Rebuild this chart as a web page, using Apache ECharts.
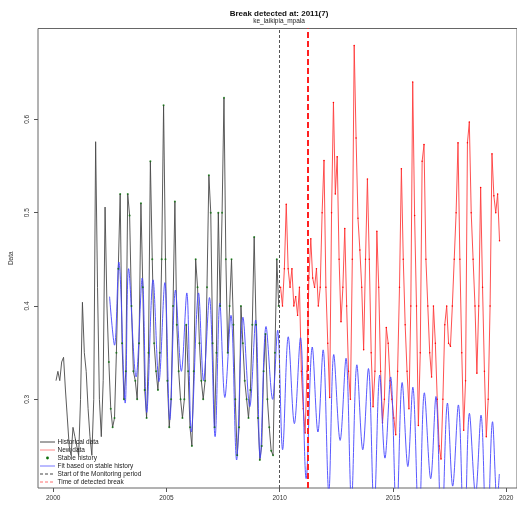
<!DOCTYPE html>
<html>
<head>
<meta charset="utf-8">
<script src="https://cdn.jsdelivr.net/npm/echarts@6/dist/echarts.min.js"></script>
<style>
  html, body { margin: 0; padding: 0; background: #ffffff; }
  #chart { width: 517px; height: 506px; }
</style>
</head>
<body>
<div id="chart"></div>
<script>
// Monthly observations, historical period (Feb 2000 .. Dec 2009)
const histStart = 2000 + 1.5 / 12;
const histValues = [
  0.32, 0.33, 0.32, 0.34, 0.345, 0.31, 0.28, 0.25, 0.24, 0.27, 0.26,
  0.25, 0.24, 0.30, 0.404, 0.35, 0.33, 0.29, 0.26, 0.24, 0.30, 0.576, 0.42,
  0.30, 0.26, 0.32, 0.506, 0.40, 0.34, 0.29, 0.27, 0.28, 0.35, 0.44, 0.52,
  0.36, 0.30, 0.33, 0.52, 0.497, 0.40, 0.33, 0.32, 0.30, 0.36, 0.51, 0.42,
  0.31, 0.28, 0.35, 0.555, 0.45, 0.36, 0.33, 0.31, 0.35, 0.45, 0.615, 0.45,
  0.32, 0.27, 0.30, 0.40, 0.512, 0.38, 0.33, 0.30, 0.28, 0.30, 0.38, 0.33,
  0.27, 0.25, 0.33, 0.45, 0.42, 0.36, 0.32, 0.30, 0.32, 0.42, 0.54, 0.50,
  0.36, 0.27, 0.35, 0.50, 0.40, 0.50, 0.623, 0.45, 0.35, 0.40, 0.45, 0.38,
  0.30, 0.24, 0.27, 0.40, 0.36, 0.32, 0.30, 0.28, 0.31, 0.38, 0.474, 0.38,
  0.28, 0.235, 0.25, 0.33, 0.37, 0.30, 0.27, 0.245, 0.24, 0.35, 0.45, 0.40
];

// Monthly observations, monitoring period (Jan 2010 .. Sep 2019)
const newStart = 2010 + 0.5 / 12;
const newValues = [
  0.42, 0.40, 0.44, 0.509, 0.44, 0.42, 0.44, 0.40, 0.41, 0.39, 0.42, 0.33,
  0.29, 0.264, 0.33, 0.43, 0.472, 0.43, 0.42, 0.44, 0.40, 0.42, 0.50, 0.556,
  0.42, 0.36, 0.302, 0.50, 0.618, 0.52, 0.56, 0.45, 0.383, 0.42, 0.483, 0.40,
  0.33, 0.30, 0.45, 0.679, 0.58, 0.494, 0.46, 0.42, 0.353, 0.45, 0.536, 0.45,
  0.35, 0.292, 0.33, 0.48, 0.42, 0.33, 0.275, 0.30, 0.377, 0.36, 0.32, 0.30,
  0.28, 0.262, 0.33, 0.42, 0.547, 0.45, 0.38, 0.33, 0.29, 0.40, 0.64, 0.497,
  0.40, 0.272, 0.35, 0.555, 0.573, 0.45, 0.40, 0.35, 0.324, 0.40, 0.36, 0.30,
  0.25, 0.236, 0.30, 0.38, 0.40, 0.36, 0.357, 0.40, 0.45, 0.50, 0.575, 0.45,
  0.35, 0.267, 0.32, 0.575, 0.597, 0.50, 0.45, 0.40, 0.328, 0.40, 0.527, 0.42,
  0.33, 0.26, 0.30, 0.40, 0.563, 0.518, 0.50, 0.52, 0.47
];

// Start of the stable history segment
const stableFrom = 2002.45;

// Season-trend fit: turning points of the fitted curve
const fitTimes = [
  2002.49, 2002.71, 2002.90, 2003.18, 2003.33, 2003.66, 2003.93, 2004.13, 2004.41, 2004.67,
  2004.93, 2005.15, 2005.40, 2005.66, 2005.90, 2006.10, 2006.42, 2006.64, 2006.90, 2007.15,
  2007.36, 2007.58, 2007.85, 2008.10, 2008.38, 2008.68, 2008.94, 2009.14, 2009.40, 2009.69,
  2009.91, 2010.13, 2010.38, 2010.65, 2010.92, 2011.17, 2011.44, 2011.69, 2011.92, 2012.17,
  2012.39, 2012.67, 2012.93, 2013.17, 2013.41, 2013.67, 2013.92, 2014.17, 2014.42, 2014.65,
  2014.90, 2015.16, 2015.41, 2015.66, 2015.88, 2016.15, 2016.39, 2016.67, 2016.90, 2017.15,
  2017.41, 2017.64, 2017.89, 2018.15, 2018.38, 2018.65, 2018.89, 2019.15, 2019.40, 2019.60,
  2019.70
];
const fitValues = [
  0.410, 0.358, 0.447, 0.296, 0.440, 0.324, 0.430, 0.286, 0.428, 0.319,
  0.425, 0.278, 0.417, 0.330, 0.414, 0.265, 0.414, 0.320, 0.409, 0.260,
  0.403, 0.302, 0.390, 0.235, 0.388, 0.292, 0.385, 0.237, 0.378, 0.300,
  0.374, 0.246, 0.367, 0.274, 0.366, 0.215, 0.356, 0.265, 0.353, 0.200,
  0.348, 0.256, 0.344, 0.190, 0.337, 0.246, 0.333, 0.180, 0.326, 0.237,
  0.324, 0.170, 0.318, 0.228, 0.313, 0.160, 0.307, 0.215, 0.303, 0.150,
  0.296, 0.207, 0.294, 0.140, 0.285, 0.198, 0.283, 0.130, 0.276, 0.190,
  0.220
];

const monitorStart = 2010;
const breakTime = 2011 + 6 * 16 / 365;

const xTicks = [2000, 2005, 2010, 2015, 2020];
const yTicks = [0.3, 0.4, 0.5, 0.6];

const titleText = 'Break detected at: 2011(7)';
const subtitleText = 'ke_laikipia_mpala';
const yAxisName = 'Data';

const legendNames = [
  'Historical data',
  'New data',
  'Stable history',
  'Fit based on stable history',
  'Start of the Monitoring period',
  'Time of detected break'
];

const FONT = '"Liberation Sans", Arial, Helvetica, sans-serif';
const COL_HIST = '#4a4a4a';
const COL_NEW = '#ff3c3c';
const COL_STABLE = '#0a6e0a';
const COL_FIT = '#4646ff';
const COL_START = '#555555';
const COL_BREAK = '#ff2020';

const histData = histValues.map((v, i) => [histStart + i / 12, v]);
const newData = newValues.map((v, i) => [newStart + i / 12, v]);
const stableData = histData.filter(d => d[0] >= stableFrom);
const fitData = fitTimes.map((t, i) => [t, fitValues[i]]);

// Plot frame geometry
const gridLeft = 38, gridTop = 28.5, gridWidth = 484, gridHeight = 459.5;

// Legend drawn in the lower-left corner of the plot
const legendGraphics = [];
const legendStyle = [
  { type: 'line', color: COL_HIST, dash: null },
  { type: 'line', color: '#ff8a8a', dash: null },
  { type: 'dot', color: COL_STABLE },
  { type: 'line', color: '#7777ff', dash: null },
  { type: 'line', color: '#444444', dash: [3, 2] },
  { type: 'line', color: '#ff7070', dash: [3, 2] }
];
legendNames.forEach((name, i) => {
  const y = 442 + i * 8;
  const s = legendStyle[i];
  if (s.type === 'dot') {
    legendGraphics.push({
      type: 'circle', shape: { cx: 47.5, cy: y, r: 1.4 },
      style: { fill: s.color }, z: 100
    });
  } else {
    legendGraphics.push({
      type: 'line', shape: { x1: 40, y1: y, x2: 55, y2: y },
      style: { stroke: s.color, lineWidth: 1, lineDash: s.dash }, z: 100
    });
  }
  legendGraphics.push({
    type: 'text', x: 57.5, y: y, z: 100,
    style: { text: name, font: '6.5px ' + FONT, fill: '#222', textVerticalAlign: 'middle', textAlign: 'left' }
  });
});

const chart = echarts.init(document.getElementById('chart'), null, { renderer: 'canvas' });
chart.setOption({
  animation: false,
  backgroundColor: '#ffffff',
  grid: {
    left: gridLeft, top: gridTop, width: gridWidth, height: gridHeight,
    show: true, borderColor: '#666', borderWidth: 1, backgroundColor: 'transparent'
  },
  graphic: [
    {
      type: 'text', x: 279, y: 14,
      style: { text: titleText, font: 'bold 8px ' + FONT, fill: '#111', textAlign: 'center', textVerticalAlign: 'middle' }
    },
    {
      type: 'text', x: 279, y: 21,
      style: { text: subtitleText, font: '6.5px ' + FONT, fill: '#222', textAlign: 'center', textVerticalAlign: 'middle' }
    }
  ].concat(legendGraphics),
  xAxis: {
    type: 'value', min: 1999.33, max: 2020.48,
    splitLine: { show: false },
    axisLine: { show: false },
    axisTick: { show: true, length: 4, customValues: xTicks, lineStyle: { color: '#555' } },
    axisLabel: {
      customValues: xTicks, margin: 7, fontSize: 6.5, fontFamily: FONT, color: '#333',
      formatter: v => String(v)
    }
  },
  yAxis: {
    type: 'value', min: 0.205, max: 0.6973,
    name: yAxisName, nameLocation: 'middle', nameRotate: 90, nameGap: 23,
    nameTextStyle: { fontSize: 6.5, fontFamily: FONT, color: '#333' },
    splitLine: { show: false },
    axisLine: { show: false },
    axisTick: { show: true, length: 4, customValues: yTicks, lineStyle: { color: '#555' } },
    axisLabel: {
      customValues: yTicks, rotate: 90, margin: 7, fontSize: 6.5, fontFamily: FONT, color: '#333',
      formatter: v => v.toFixed(1)
    }
  },
  series: [
    {
      name: legendNames[0], type: 'line', data: histData, symbol: 'none',
      lineStyle: { color: COL_HIST, width: 0.9 }, clip: true, z: 2
    },
    {
      name: legendNames[1], type: 'line', data: newData,
      symbol: 'circle', symbolSize: 1.5, showSymbol: true,
      itemStyle: { color: '#ff0000' }, lineStyle: { color: COL_NEW, width: 0.9 }, clip: true, z: 2
    },
    {
      name: legendNames[3], type: 'line', data: fitData, symbol: 'none', smooth: 0.35,
      lineStyle: { color: COL_FIT, width: 0.9 }, clip: true, z: 3
    },
    {
      name: legendNames[2], type: 'scatter', data: stableData, symbol: 'circle', symbolSize: 2,
      itemStyle: { color: COL_STABLE }, clip: true, z: 4
    },
    {
      name: 'markers', type: 'line', data: [], z: 5,
      markLine: {
        silent: true, symbol: 'none', label: { show: false }, animation: false,
        data: [
          { xAxis: monitorStart, lineStyle: { color: COL_START, type: [3, 2], width: 1 } },
          { xAxis: breakTime, lineStyle: { color: COL_BREAK, type: [6, 3], width: 2 } }
        ]
      }
    }
  ]
});
</script>
</body>
</html>
